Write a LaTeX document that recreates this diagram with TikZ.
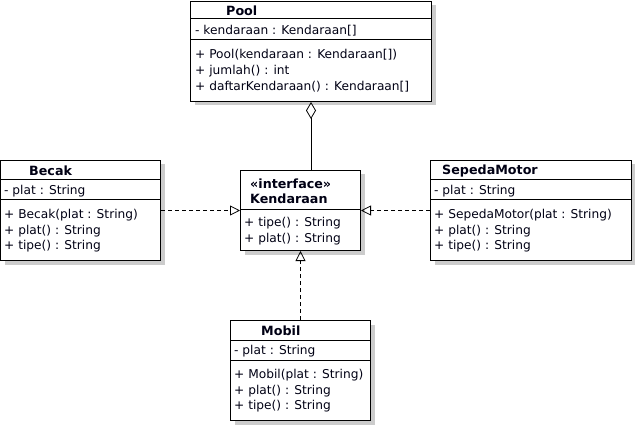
\documentclass[tikz,border=0pt]{standalone}
\usepackage{fontspec}
\setmainfont{DejaVu Sans}
\usetikzlibrary{shadows,arrows.meta}
\begin{document}
\begin{tikzpicture}[x=1pt,y=-1pt,
  classbox/.style={draw, line width=1pt, fill=white, anchor=north west, inner sep=0pt,
    drop shadow={shadow xshift=4pt, shadow yshift=-4pt, fill=black!20, opacity=1}},
  divider/.style={line width=1pt},
  txt/.style={anchor=west, inner sep=0pt, font=\fontsize{12.2}{14}\selectfont, text=black!92!blue, yshift=-1pt},
  ttl/.style={txt, font=\fontsize{12.7}{14}\selectfont\bfseries},
  realize/.style={line width=0.8pt, dash pattern=on 4pt off 3pt, -{Triangle[open, length=10pt, width=10pt]}},
  aggr/.style={line width=0.8pt, -{Diamond[open, length=17pt, width=10pt]}}
]
\useasboundingbox (0,0) rectangle (635,425);

% Pool
\node[classbox, minimum width=241pt, minimum height=100pt] (pool) at (190,1) {};
\draw[divider] ([yshift=-18pt]pool.north west) -- ([yshift=-18pt]pool.north east);
\draw[divider] ([yshift=-39pt]pool.north west) -- ([yshift=-39pt]pool.north east);
\node[ttl] (poolT) at (226,10) {Pool};
\node[txt] (poolA) at (195,29.5) {- kendaraan : Kendaraan[]};
\node[txt] (poolM1) at (195,54) {+ Pool(kendaraan : Kendaraan[])};
\node[txt] (poolM2) at (195,70) {+ jumlah() : int};
\node[txt] (poolM3) at (195,86) {+ daftarKendaraan() : Kendaraan[]};

% Becak
\node[classbox, minimum width=160pt, minimum height=100pt] (becak) at (0,160) {};
\draw[divider] ([yshift=-20pt]becak.north west) -- ([yshift=-20pt]becak.north east);
\draw[divider] ([yshift=-40pt]becak.north west) -- ([yshift=-40pt]becak.north east);
\node[ttl] (becakT) at (29,170) {Becak};
\node[txt] (becakA) at (4,190) {- plat : String};
\node[txt] (becakM1) at (4,214.5) {+ Becak(plat : String)};
\node[txt] (becakM2) at (4,230) {+ plat() : String};
\node[txt] (becakM3) at (4,245.5) {+ tipe() : String};

% Kendaraan
\node[classbox, minimum width=120pt, minimum height=80pt] (kend) at (240,170) {};
\draw[divider] ([yshift=-40pt]kend.north west) -- ([yshift=-40pt]kend.north east);
\node[ttl] (kendS) at (250,183) {«interface»};
\node[ttl] (kendT) at (250,198) {Kendaraan};
\node[txt] (kendM1) at (244,222.5) {+ tipe() : String};
\node[txt] (kendM2) at (244,238) {+ plat() : String};

% SepedaMotor
\node[classbox, minimum width=201pt, minimum height=100pt] (motor) at (430,160) {};
\draw[divider] ([yshift=-20pt]motor.north west) -- ([yshift=-20pt]motor.north east);
\draw[divider] ([yshift=-40pt]motor.north west) -- ([yshift=-40pt]motor.north east);
\node[ttl] (motorT) at (442,170) {SepedaMotor};
\node[txt] (motorA) at (434,190) {- plat : String};
\node[txt] (motorM1) at (434,214.5) {+ SepedaMotor(plat : String)};
\node[txt] (motorM2) at (434,230) {+ plat() : String};
\node[txt] (motorM3) at (434,245.5) {+ tipe() : String};

% Mobil
\node[classbox, minimum width=140pt, minimum height=100pt] (mobil) at (230,320) {};
\draw[divider] ([yshift=-20pt]mobil.north west) -- ([yshift=-20pt]mobil.north east);
\draw[divider] ([yshift=-40pt]mobil.north west) -- ([yshift=-40pt]mobil.north east);
\node[ttl] (mobilT) at (261,330) {Mobil};
\node[txt] (mobilA) at (234,350) {- plat : String};
\node[txt] (mobilM1) at (234,374.5) {+ Mobil(plat : String)};
\node[txt] (mobilM2) at (234,390) {+ plat() : String};
\node[txt] (mobilM3) at (234,405.5) {+ tipe() : String};

% connectors
\draw[aggr] (kend.north -| pool.south) -- (pool.south);
\draw[realize] (becak.east) -- (kend.west);
\draw[realize] (motor.west) -- (kend.east);
\draw[realize] (mobil.north) -- (kend.south);
\end{tikzpicture}
\end{document}
